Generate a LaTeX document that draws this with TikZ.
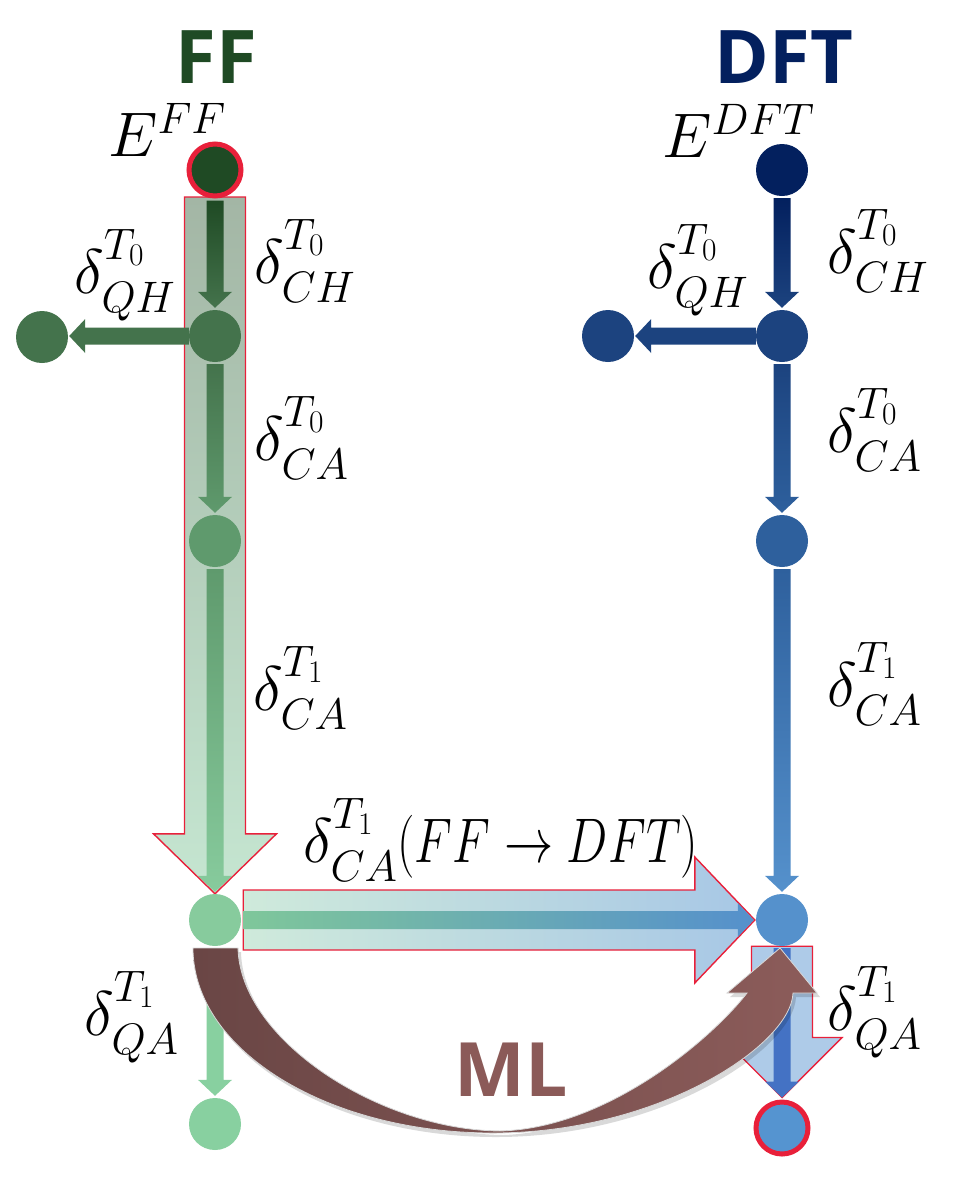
\RequirePackage{fix-cm}
\documentclass[tikz,border=0pt]{standalone}
\usepackage{fontspec}
\newfontfamily\titlefont{Open Sans}
\usetikzlibrary{calc}
\pgfdeclarelayer{bgw}
\pgfdeclarelayer{bigA}
\pgfdeclarelayer{thinA}
\pgfdeclarelayer{front}
\pgfsetlayers{bgw,bigA,thinA,main,front}

\definecolor{redc}{HTML}{E8203A}
\definecolor{ffgreen}{HTML}{1F4A24}
\definecolor{dftblue}{HTML}{03205E}
\definecolor{gA}{HTML}{1F4A24}
\definecolor{gB}{HTML}{44734C}
\definecolor{gC}{HTML}{5F9A6D}
\definecolor{gD}{HTML}{87CB9D}
\definecolor{gE}{HTML}{88D0A0}
\definecolor{bA}{HTML}{03205E}
\definecolor{bB}{HTML}{1C437F}
\definecolor{bC}{HTML}{2E609D}
\definecolor{bD}{HTML}{5591CC}
\definecolor{bE}{HTML}{5594D0}
\definecolor{bF}{HTML}{4472C4}
\definecolor{mlL}{HTML}{6A4645}
\definecolor{mlR}{HTML}{8C5C5A}
\definecolor{mltext}{HTML}{8B5A58}
\definecolor{bigAtop}{HTML}{A3B6A5}
\definecolor{bigAbot}{HTML}{C5E6D1}
\definecolor{bigBl}{HTML}{CFEADB}
\definecolor{bigBr}{HTML}{A7C7E6}
\definecolor{bigC}{HTML}{AECBE8}
\definecolor{thL}{HTML}{7FC79A}
\definecolor{thM}{HTML}{6BAAB2}
\definecolor{thR}{HTML}{5590CC}

\newcommand\dlt[2]{\delta^{\raisebox{11pt}{$\scriptstyle #1$}}_{\raisebox{-4pt}{$\scriptstyle #2$}}}

% thin downward arrow between two nodes, shaded
\newcommand\thindown[4]{%
  \shade[top color=#3,bottom color=#4] let \p1=(#1.south),\p2=(#2.north) in
    (\x1-8.5pt,\y1-2pt) -- (\x1+8.5pt,\y1-2pt) -- (\x1+8.5pt,\y2+18pt) -- (\x1+17pt,\y2+18pt)
    -- (\x1,\y2+2pt) -- (\x1-17pt,\y2+18pt) -- (\x1-8.5pt,\y2+18pt) -- cycle;}
% thin leftward arrow between two nodes
\newcommand\thinleft[3]{%
  \fill[#3] let \p1=(#1.west),\p2=(#2.east) in
    (\x1,\y1+8.5pt) -- (\x2+17pt,\y1+8.5pt) -- (\x2+17pt,\y1+17pt) -- (\x2+1pt,\y1)
    -- (\x2+17pt,\y1-17pt) -- (\x2+17pt,\y1-8.5pt) -- (\x1,\y1-8.5pt) -- cycle;}

\newcommand\mlpath{(193,-948) -- (238,-948) .. controls (240,-1040) and (380,-1130) .. (500,-1131)
  .. controls (610,-1128) and (715,-1035) .. (747,-993) -- (727,-993) -- (780,-948) -- (817,-993)
  -- (793,-993) .. controls (791,-1045) and (659,-1133) .. (493,-1133)
  .. controls (327,-1133) and (193,-1050) .. (193,-948) -- cycle}

\tikzset{
  dot/.style={circle, minimum size=52pt, inner sep=0pt, draw=none},
  reddot/.style={circle, minimum size=52pt, inner sep=0pt, draw=redc, line width=5pt},
  mlab/.style={inner sep=0pt, anchor=base west, font=\fontsize{63}{70}\selectfont},
  ttl/.style={inner sep=0pt, font=\titlefont\bfseries\fontsize{74}{80}\selectfont},
  bigarrow/.style={draw=redc, line width=1.4pt},
}

\begin{document}
\begin{tikzpicture}[x=1pt,y=1pt]
\begin{pgfonlayer}{bgw}
\fill[white] (0,0) rectangle (960,-1178);
\end{pgfonlayer}
\useasboundingbox (0,0) rectangle (960,-1178);

% titles
\node[ttl, text=ffgreen] (tff) at (216,-57.5) {FF};
\node[ttl, text=dftblue] (tdft) at (784,-57.5) {DFT};

% nodes, FF column
\node[reddot, fill=gA] (L0) at (215,-170) {};
\node[dot, fill=gB] (L1) at (215,-336) {};
\node[dot, fill=gB] (Lq) at (42,-337) {};
\node[dot, fill=gC] (L2) at (215,-541) {};
\node[dot, fill=gD] (L3) at (215,-920) {};
\node[dot, fill=gE] (L4) at (215,-1124) {};
% nodes, DFT column
\node[dot, fill=bA] (R0) at (782,-170) {};
\node[dot, fill=bB] (R1) at (782,-336) {};
\node[dot, fill=bB] (Rq) at (608,-336) {};
\node[dot, fill=bC] (R2) at (782,-541) {};
\node[dot, fill=bD] (R3) at (782,-920) {};
\node[reddot, fill=bE] (R4) at (782,-1128) {};

% big arrows
\begin{pgfonlayer}{bigA}
\shadedraw[bigarrow, top color=bigAtop, bottom color=bigAbot]
  let \p1=(L0.south),\p2=(L3.north) in
  (\x1-30.5pt,\y1+1.5pt) -- (\x1+30.5pt,\y1+1.5pt) -- (\x1+30.5pt,\y2+60pt) -- (\x1+61.5pt,\y2+60pt)
  -- (\x1,\y2) -- (\x1-61.5pt,\y2+60pt) -- (\x1-30.5pt,\y2+60pt) -- cycle;
\shadedraw[bigarrow, left color=bigBl, right color=bigBr]
  let \p1=(L3.east),\p2=(R3.west) in
  (\x1+2pt,\y1+30pt) -- (\x2-61pt,\y1+30pt) -- (\x2-61pt,\y1+63pt) -- (\x2-1pt,\y1)
  -- (\x2-61pt,\y1-63pt) -- (\x2-61pt,\y1-30pt) -- (\x1+2pt,\y1-30pt) -- cycle;
\filldraw[bigarrow, fill=bigC]
  let \p1=(R3.south),\p2=(R4.north) in
  (\x1-30.5pt,\y1) -- (\x1+30.5pt,\y1) -- (\x1+30.5pt,\y2+62pt) -- (\x1+60pt,\y2+62pt)
  -- (\x1,\y2+2pt) -- (\x1-60pt,\y2+62pt) -- (\x1-30.5pt,\y2+62pt) -- cycle;
\end{pgfonlayer}

% thin arrows
\begin{pgfonlayer}{thinA}
\thindown{L0}{L1}{gA}{gB}
\thinleft{L1}{Lq}{gB}
\thindown{L1}{L2}{gB}{gC}
\thindown{L2}{L3}{gC}{gD}
\thindown{L3}{L4}{gE}{gE}
\thindown{R0}{R1}{bA}{bB}
\thinleft{R1}{Rq}{bB}
\thindown{R1}{R2}{bB}{bC}
\thindown{R2}{R3}{bC}{bD}
\thindown{R3}{R4}{bF}{bF}
\shade[left color=thL, middle color=thM, right color=thR]
  let \p1=(L3.east),\p2=(R3.west) in
  (\x1+2pt,\y1+9pt) -- (\x2-18pt,\y1+9pt) -- (\x2-18pt,\y1+17pt) -- (\x2-2pt,\y1)
  -- (\x2-18pt,\y1-17pt) -- (\x2-18pt,\y1-9pt) -- (\x1+2pt,\y1-9pt) -- cycle;
\end{pgfonlayer}

% ML curved arrow
\begin{pgfonlayer}{front}
\fill[black, opacity=0.15, xshift=3pt, yshift=-4pt] \mlpath;
\shadedraw[left color=mlL, right color=mlR, draw=black!15, line width=0.8pt] \mlpath;
\end{pgfonlayer}

% labels
\node[mlab] (eff) at (108,-156) {$E^{FF}$};
\node[mlab] (edft) at (662,-157) {$E^{DFT}$};
\node[mlab] (lqh) at (74,-293) {$\dlt{T_0}{QH}$};
\node[mlab] (lch) at (254,-283) {$\dlt{T_0}{CH}$};
\node[mlab] (lca0) at (254,-460) {$\dlt{T_0}{CA}$};
\node[mlab] (lca1) at (253,-710) {$\dlt{T_1}{CA}$};
\node[mlab] (xca) at (303,-862) {$\dlt{T_1}{CA}$\scalebox{0.78}[1]{$(FF\rightarrow DFT)$}};
\node[mlab] (lqa) at (84,-1035) {$\dlt{T_1}{QA}$};
\node[mlab] (rqh) at (647,-288) {$\dlt{T_0}{QH}$};
\node[mlab] (rch) at (827,-273) {$\dlt{T_0}{CH}$};
\node[mlab] (rca0) at (827,-452) {$\dlt{T_0}{CA}$};
\node[mlab] (rca1) at (827,-706) {$\dlt{T_1}{CA}$};
\node[mlab] (rqa) at (827,-1030) {$\dlt{T_1}{QA}$};
\node[ttl, text=mltext, font=\titlefont\bfseries\fontsize{75}{80}\selectfont] (ml) at (511,-1070) {ML};
\end{tikzpicture}
\end{document}
